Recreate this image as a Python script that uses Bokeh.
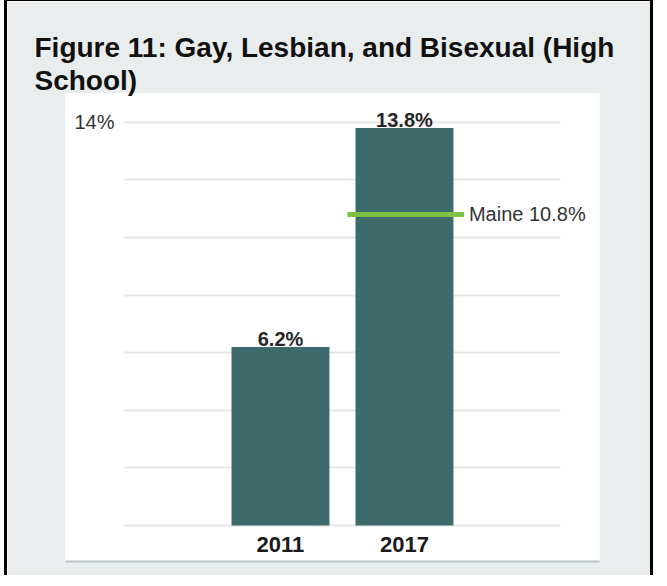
from bokeh.plotting import figure
from bokeh.layouts import column
from bokeh.models import (ColumnDataSource, Range1d, FixedTicker,
                          SingleIntervalTicker, Title)
from bokeh.transform import dodge
from bokeh.core.properties import value
from bokeh.embed import file_html
from bokeh.resources import INLINE

# ---- data ----
title_line1 = "Figure 11: Gay, Lesbian, and Bisexual (High"
title_line2 = "School)"
years = ["2011", "2017"]
percents = [6.2, 13.8]
bar_labels = ["6.2%", "13.8%"]
maine_year = ["2017"]
maine_value = [10.8]
maine_label = ["Maine 10.8%"]
y_tick_values = [14]
y_tick_labels = ["14%"]

FONT = "Liberation Sans"
BG = "#e9eded"
BAR = "#3d6b6b"
GREEN = "#7dc242"

x_pos = list(range(len(years)))
src = ColumnDataSource(dict(x=x_pos, value=percents, label=bar_labels))
mx = [years.index(y) for y in maine_year]
msrc = ColumnDataSource(dict(x=mx, value=maine_value, label=maine_label))

p = figure(
    width=649, height=577,
    x_range=Range1d(-1.734, 2.573),
    y_range=Range1d(-1.25, 15),
    output_backend="svg", toolbar_location=None, title=None,
    min_border_left=58, min_border_right=57, min_border_top=92, min_border_bottom=17,
    background_fill_color="white", border_fill_color=BG, outline_line_color=None,
    styles={"border-left": "3px solid #000", "border-top": "3px solid #000",
            "border-right": "3px solid #000"},
)

# title (two lines)
p.add_layout(Title(text=title_line2, align="left", offset=-31, standoff=-4,
                   text_font=FONT, text_font_style="bold", text_font_size="28px",
                   text_color="#111111"), "above")
p.add_layout(Title(text=title_line1, align="left", offset=-31, standoff=4,
                   text_font=FONT, text_font_style="bold", text_font_size="28px",
                   text_color="#111111"), "above")

# grid
p.xgrid.visible = False
p.ygrid.ticker = SingleIntervalTicker(interval=2)
p.ygrid.grid_line_color = "#e6e6e6"
p.ygrid.grid_line_width = 2
p.ygrid.cross_bounds = (-1.255, 2.258)

# y axis: only the 14% label, drawn inside the white panel
p.yaxis.ticker = FixedTicker(ticks=y_tick_values)
p.yaxis.major_label_overrides = {v: l for v, l in zip(y_tick_values, y_tick_labels)}
p.yaxis.axis_line_color = None
p.yaxis.major_tick_line_color = None
p.yaxis.minor_tick_line_color = None
p.yaxis.major_tick_out = 0
p.yaxis.major_label_standoff = -49
p.yaxis.major_label_text_font = FONT
p.yaxis.major_label_text_font_size = "20px"
p.yaxis.major_label_text_color = "#333333"

# x axis (its line is the panel's bottom edge)
p.xaxis.ticker = FixedTicker(ticks=x_pos)
p.xaxis.major_label_overrides = {i: y for i, y in zip(x_pos, years)}
p.xaxis.axis_line_color = "#bcc8c8"
p.xaxis.axis_line_width = 2
p.xaxis.major_tick_line_color = None
p.xaxis.minor_tick_line_color = None
p.xaxis.major_tick_out = 0
p.xaxis.major_label_standoff = -25
p.xaxis.major_label_text_font = FONT
p.xaxis.major_label_text_font_style = "bold"
p.xaxis.major_label_text_font_size = "22px"
p.xaxis.major_label_text_color = "#1a1a1a"

# bars
p.vbar(x="x", top="value", width=0.79, source=src, fill_color=BAR, line_color=None)
p.text(x="x", y="value", text="label", source=src, text_align="center",
       text_baseline="alphabetic", y_offset=-8, text_font=value(FONT),
       text_font_style="bold", text_font_size="20px", text_color="#262626")

# Maine reference line
p.segment(x0=dodge("x", -0.46), y0="value", x1=dodge("x", 0.48), y1="value",
          source=msrc, line_color=GREEN, line_width=5)
p.text(x=dodge("x", 0.52), y="value", text="label", source=msrc,
       text_align="left", text_baseline="middle", text_font=value(FONT),
       text_font_size="20px", text_color="#333333")

root = column(p, styles={"margin": "-8px 0px -8px -8px", "padding-left": "12px",
                         "padding-top": "6px", "background-color": "white"})

open("out.html", "w").write(file_html(root, INLINE))
